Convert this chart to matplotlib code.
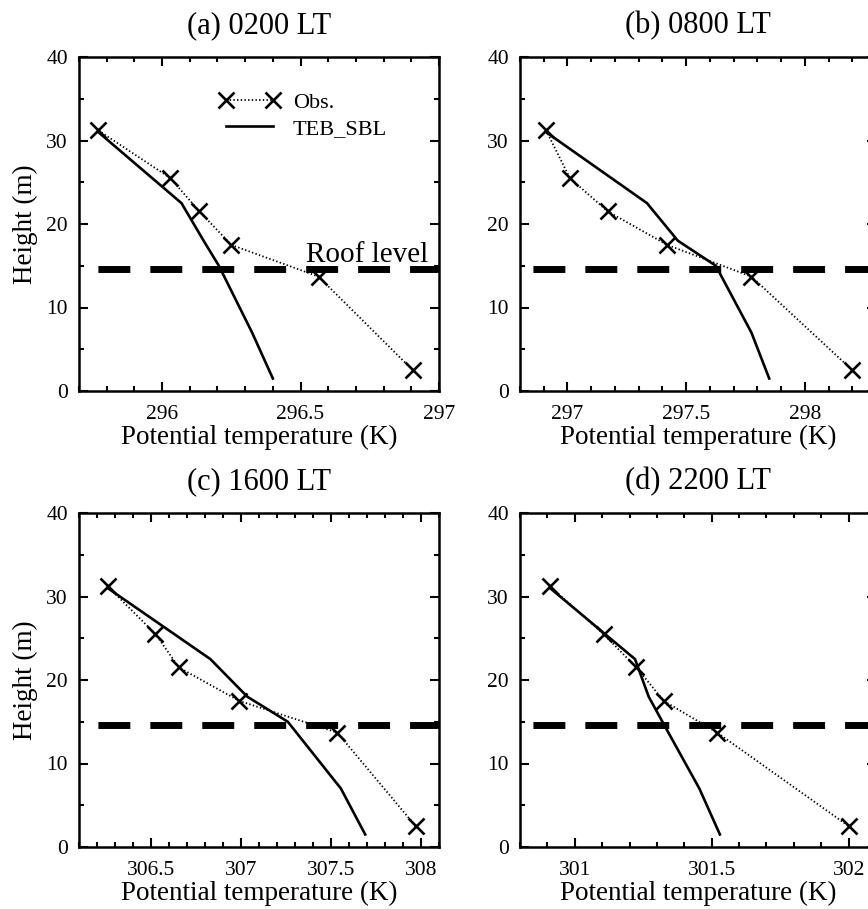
import matplotlib
matplotlib.use('Agg')
import matplotlib.pyplot as plt
from matplotlib.ticker import MultipleLocator, FormatStrFormatter

# alturas (m)
obs_height = [31.2, 25.5, 21.5, 17.5, 13.7, 2.5]
model_height = [31.0, 22.5, 18.0, 15.0, 7.0, 1.5]
roof_height = 14.6

# temperatura potencial (K) por painel
obs_a = [295.77, 296.03, 296.135, 296.25, 296.565, 296.905]
model_a = [295.77, 296.07, 296.15, 296.205, 296.325, 296.40]
obs_b = [296.91, 297.01, 297.17, 297.42, 297.775, 298.20]
model_b = [296.91, 297.335, 297.465, 297.625, 297.775, 297.85]
obs_c = [306.26, 306.525, 306.655, 306.99, 307.535, 307.97]
model_c = [306.26, 306.83, 307.035, 307.26, 307.555, 307.69]
obs_d = [300.91, 301.105, 301.225, 301.325, 301.52, 302.0]
model_d = [300.91, 301.22, 301.27, 301.32, 301.455, 301.53]

titles = ["(a) 0200 LT", "(b) 0800 LT", "(c) 1600 LT", "(d) 2200 LT"]
xlims = [(295.7, 297.0), (296.8, 298.3), (306.1, 308.1), (300.8, 302.1)]
xlabel = "Potential temperature (K)"
ylabel = "Height (m)"

plt.rcParams['font.family'] = ['Liberation Serif', 'DejaVu Serif']
plt.rcParams['lines.scale_dashes'] = False

W, H = 868, 909
fig = plt.figure(figsize=(W / 100, H / 100), dpi=100, facecolor='white')

# posições em pixels: (esquerda, topo, largura, altura)
boxes = [(79, 57, 360, 334), (520, 57, 356, 334),
         (79, 513, 360, 334), (520, 513, 356, 334)]
dash_offsets = [23.8, 28.1, 23.8, 28.1]

panels = [(obs_a, model_a), (obs_b, model_b), (obs_c, model_c), (obs_d, model_d)]

for i, ((obs, model), (l, t, w, h)) in enumerate(zip(panels, boxes)):
    ax = fig.add_axes([l / W, (H - t - h) / H, w / W, h / H])
    ax.plot(obs, obs_height, color='black', linestyle=':', linewidth=1.3,
            marker='x', markersize=11, markeredgewidth=1.9, label='Obs.')
    ax.plot(model, model_height, color='black', linestyle='-', linewidth=1.9,
            label='TEB_SBL')
    ax.axhline(roof_height, color='black', linewidth=5.0,
               linestyle=(dash_offsets[i], (23.0, 14.4)))

    ax.set_xlim(*xlims[i])
    ax.set_ylim(0, 40)
    ax.xaxis.set_major_locator(MultipleLocator(0.5))
    ax.xaxis.set_minor_locator(MultipleLocator(0.1))
    ax.xaxis.set_major_formatter(FormatStrFormatter('%g'))
    ax.yaxis.set_major_locator(MultipleLocator(10))
    ax.yaxis.set_minor_locator(MultipleLocator(5))
    ax.tick_params(which='both', direction='in', top=True, right=True,
                   labelsize=15.5, width=1.5)
    ax.tick_params(which='major', length=6.5)
    ax.tick_params(axis='y', which='major', pad=8)
    ax.tick_params(axis='x', which='major', pad=10)
    ax.tick_params(which='minor', length=3.5)
    for s in ax.spines.values():
        s.set_linewidth(1.8)

    ax.set_title(titles[i], fontsize=22, pad=17)
    ax.set_xlabel(xlabel, fontsize=19.5, labelpad=1)
    if i % 2 == 0:
        ax.set_ylabel(ylabel, fontsize=19.5, labelpad=6)

    if i == 0:
        ax.text(296.96, 15.4, "Roof level", fontsize=21, ha='right', va='baseline')
        ax.legend(loc='upper left', bbox_to_anchor=(0.39, 0.895), frameon=False,
                  numpoints=2, fontsize=16, handlelength=2.7, handletextpad=0.6,
                  labelspacing=0.25, borderpad=0.0, borderaxespad=0.0)

plt.savefig('out.png', dpi=100, facecolor='white')
plt.close()
